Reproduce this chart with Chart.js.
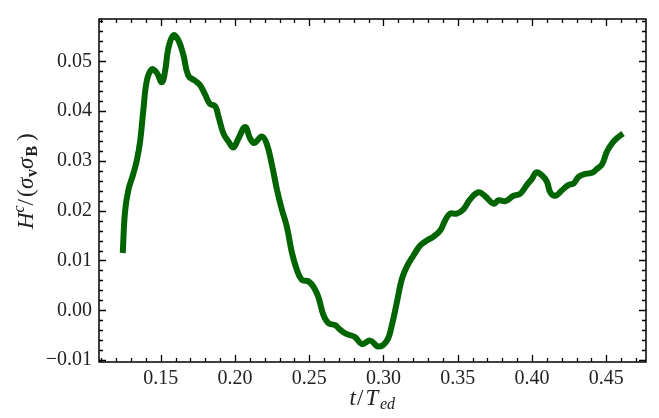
<!DOCTYPE html>
<html>
<head>
<meta charset="utf-8">
<script src="https://cdn.jsdelivr.net/npm/chart.js@4.4.1/dist/chart.umd.min.js"></script>
<style>
html,body{margin:0;padding:0;background:#fff;}
#wrap{width:659px;height:418px;}
</style>
</head>
<body>
<div id="wrap"><canvas id="c" width="659" height="418"></canvas></div>
<script>
// Time in units of eddy turnover time
const tValues = [0.1244, 0.1259, 0.1282, 0.1315, 0.1338, 0.1361, 0.1383, 0.1406, 0.1439, 0.1473,
  0.1507, 0.1529, 0.1551, 0.1585, 0.1619, 0.1652, 0.1686, 0.1731, 0.1765, 0.1799,
  0.1832, 0.1866, 0.1888, 0.1922, 0.1956, 0.1989, 0.2023, 0.2068, 0.2102, 0.2129,
  0.2181, 0.2214, 0.2248, 0.2282, 0.2315, 0.2349, 0.2383, 0.2417, 0.2450, 0.2495,
  0.2533, 0.2562, 0.2596, 0.2630, 0.2675, 0.2708, 0.2753, 0.2809, 0.2854, 0.2911,
  0.2967, 0.3023, 0.3057, 0.3090, 0.3124, 0.3158, 0.3202, 0.3247, 0.3292, 0.3337,
  0.3382, 0.3416, 0.3449, 0.3494, 0.3539, 0.3584, 0.3640, 0.3685, 0.3741, 0.3775,
  0.3820, 0.3876, 0.3921, 0.3966, 0.4000, 0.4029, 0.4067, 0.4101, 0.4123, 0.4157,
  0.4202, 0.4247, 0.4281, 0.4314, 0.4359, 0.4404, 0.4438, 0.4472, 0.4505, 0.4539,
  0.4573, 0.4613];
// Normalised cross helicity H^c/(sigma_v sigma_B)
const hcValues = [0.0115, 0.0197, 0.0242, 0.0274, 0.0300, 0.0339, 0.0403, 0.0461, 0.0484, 0.0477,
  0.0458, 0.0480, 0.0526, 0.0552, 0.0542, 0.0513, 0.0471, 0.0461, 0.0452, 0.0433,
  0.0414, 0.0410, 0.0390, 0.0355, 0.0339, 0.0327, 0.0345, 0.0368, 0.0345, 0.0336,
  0.0349, 0.0334, 0.0293, 0.0243, 0.0203, 0.0168, 0.0116, 0.0081, 0.0061, 0.0058,
  0.0045, 0.0026, -0.0010, -0.0026, -0.0030, -0.0039, -0.0048, -0.0054, -0.0068, -0.0061,
  -0.0073, -0.0061, -0.0029, 0.0016, 0.0063, 0.0088, 0.0110, 0.0130, 0.0140, 0.0148,
  0.0160, 0.0181, 0.0194, 0.0194, 0.0203, 0.0223, 0.0237, 0.0229, 0.0214, 0.0221,
  0.0219, 0.0230, 0.0234, 0.0252, 0.0264, 0.0277, 0.0271, 0.0258, 0.0237, 0.0230,
  0.0241, 0.0252, 0.0255, 0.0268, 0.0274, 0.0276, 0.0284, 0.0293, 0.0319, 0.0335,
  0.0346, 0.0355];
const xTickLabels = ['0.15', '0.20', '0.25', '0.30', '0.35', '0.40', '0.45'];
const yTickLabels = ['\u22120.01', '0.00', '0.01', '0.02', '0.03', '0.04', '0.05'];

const xLabelVals = xTickLabels.map(Number);
const yLabelVals = yTickLabels.map(s => Number(s.replace('\u2212', '-')));

const points = tValues.map((t, i) => ({x: t, y: hcValues[i]}));
const SERIF = "'Liberation Serif', 'DejaVu Serif', serif";

function near(v, arr, eps) {
  for (let i = 0; i < arr.length; i++) if (Math.abs(v - arr[i]) < eps) return i;
  return -1;
}

const frameTicks = {
  id: 'frameTicks',
  afterDraw(chart) {
    const ctx = chart.ctx, a = chart.chartArea;
    const xs = chart.scales.x, ys = chart.scales.y;
    ctx.save();
    ctx.strokeStyle = '#000';
    ctx.lineWidth = 1.3;
    ctx.beginPath();
    xs.ticks.forEach(tk => {
      const p = Math.round(xs.getPixelForValue(tk.value)) + 0.5;
      const L = near(tk.value, xLabelVals, 1e-6) >= 0 ? 7 : 4;
      ctx.moveTo(p, a.bottom); ctx.lineTo(p, a.bottom - L);
      ctx.moveTo(p, a.top); ctx.lineTo(p, a.top + L);
    });
    ys.ticks.forEach(tk => {
      const p = Math.round(ys.getPixelForValue(tk.value)) + 0.5;
      const L = near(tk.value, yLabelVals, 1e-6) >= 0 ? 7 : 4;
      ctx.moveTo(a.left, p); ctx.lineTo(a.left + L, p);
      ctx.moveTo(a.right, p); ctx.lineTo(a.right - L, p);
    });
    ctx.stroke();
    ctx.lineWidth = 1.5;
    ctx.strokeRect(a.left, a.top, a.right - a.left, a.bottom - a.top);

    // axis titles
    ctx.fillStyle = '#222';
    ctx.textBaseline = 'alphabetic';
    ctx.textAlign = 'left';
    // x title: t/T_ed
    const xsegs = [
      {t: 't', f: 'italic 23px ' + SERIF, o: 0, dy: 0},
      {t: '/', f: '23px ' + SERIF, o: 7.5, dy: 0},
      {t: 'T', f: 'italic 23px ' + SERIF, o: 16, dy: 0},
      {t: 'ed', f: 'italic 16px ' + SERIF, o: 30.5, dy: 4}
    ];
    const xStart = (a.left + a.right) / 2 - 23;
    xsegs.forEach(s => { ctx.font = s.f; ctx.fillText(s.t, xStart + s.o, 404.5 + s.dy); });

    // y title: H^c/(σ_v σ_B)
    const ysegs = [
      {t: 'H', f: 'italic 23px ' + SERIF, o: 0, dy: 0},
      {t: 'c', f: 'italic 16px ' + SERIF, o: 16.5, dy: -9},
      {t: '/', f: '23px ' + SERIF, o: 23.5, dy: 0},
      {t: '(', f: '23px ' + SERIF, o: 32, dy: 0},
      {t: '\u03C3', f: 'italic 23px ' + SERIF, o: 40, dy: 0},
      {t: 'v', f: 'bold 16px ' + SERIF, o: 52, dy: 4},
      {t: '\u03C3', f: 'italic 23px ' + SERIF, o: 60, dy: 0},
      {t: 'B', f: 'bold 16px ' + SERIF, o: 72.5, dy: 4},
      {t: ')', f: '23px ' + SERIF, o: 88, dy: 0}
    ];
    ctx.translate(33, 229);
    ctx.rotate(-Math.PI / 2);
    ysegs.forEach(s => { ctx.font = s.f; ctx.fillText(s.t, s.o, s.dy); });
    ctx.restore();
  }
};

new Chart(document.getElementById('c'), {
  type: 'line',
  data: {
    datasets: [{
      data: points,
      borderColor: '#006400',
      borderWidth: 6,
      borderCapStyle: 'butt',
      borderJoinStyle: 'round',
      pointRadius: 0,
      tension: 0.4,
      fill: false
    }]
  },
  options: {
    responsive: false,
    animation: false,
    events: [],
    layout: {padding: {top: 6, right: 13, left: 0, bottom: 0}},
    plugins: {legend: {display: false}, tooltip: {enabled: false}},
    scales: {
      x: {
        type: 'linear',
        min: 0.1084,
        max: 0.4768,
        grid: {display: false, drawTicks: false},
        border: {display: false},
        afterFit(s) { s.height = 56; },
        ticks: {
          stepSize: 0.01,
          includeBounds: false,
          autoSkip: false,
          maxRotation: 0,
          padding: 5,
          color: '#222',
          font: {family: SERIF, size: 20},
          callback(v) {
            const i = near(v, xLabelVals, 1e-6);
            return i >= 0 ? xTickLabels[i] : '';
          }
        }
      },
      y: {
        type: 'linear',
        min: -0.01039,
        max: 0.0585,
        grid: {display: false, drawTicks: false},
        border: {display: false},
        afterFit(s) { s.width = 99; },
        ticks: {
          stepSize: 0.002,
          includeBounds: false,
          autoSkip: false,
          padding: 7,
          color: '#222',
          font: {family: SERIF, size: 20},
          callback(v) {
            const i = near(v, yLabelVals, 1e-6);
            return i >= 0 ? yTickLabels[i] : '';
          }
        }
      }
    }
  },
  plugins: [frameTicks]
});
</script>
</body>
</html>
